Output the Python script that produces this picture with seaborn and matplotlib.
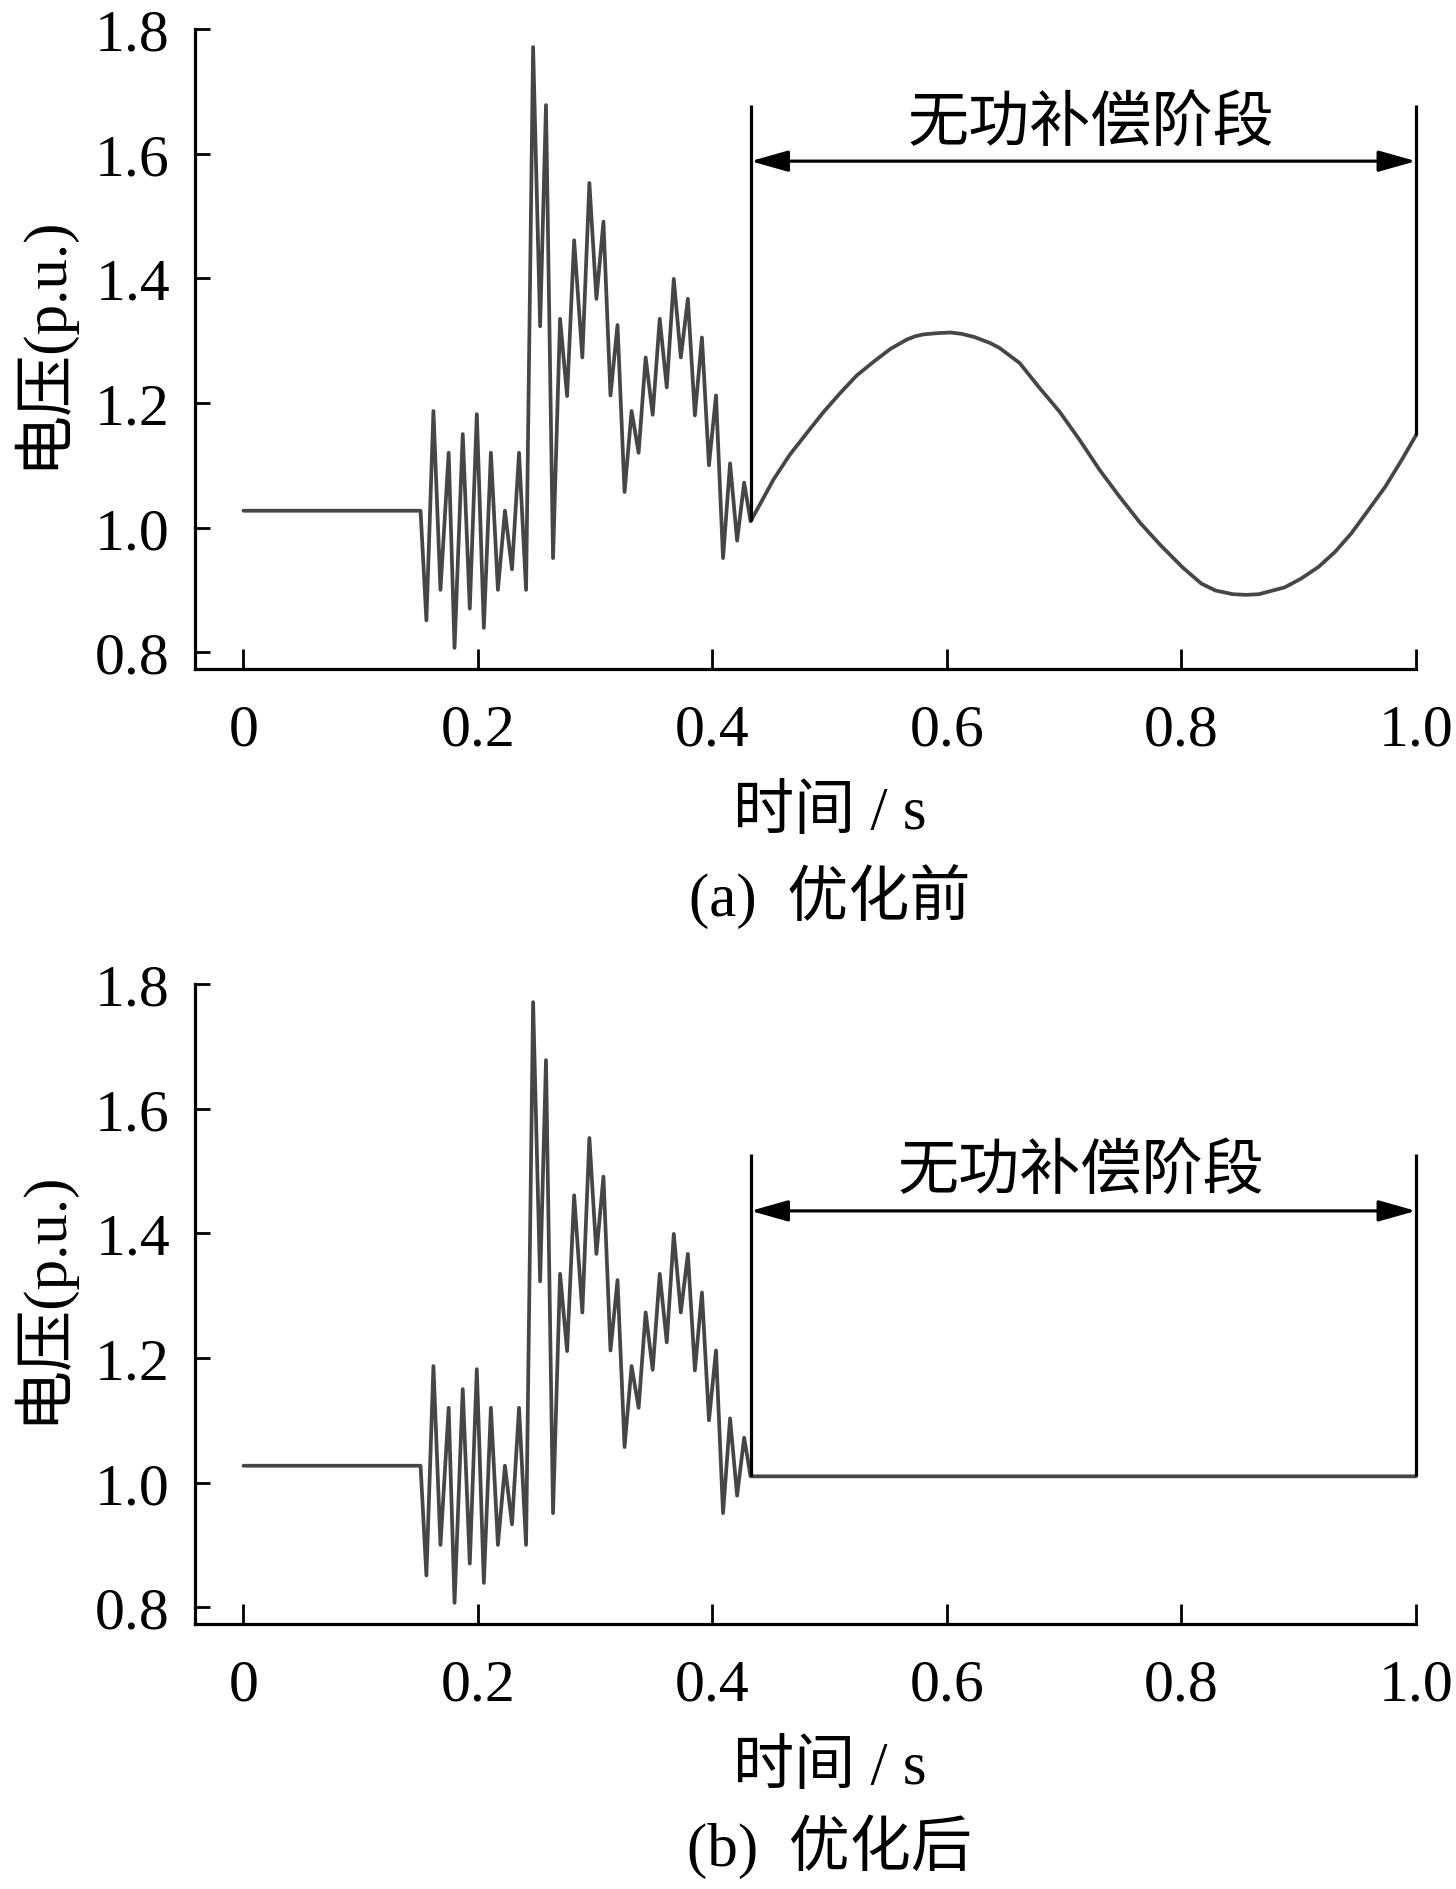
import matplotlib
matplotlib.use('Agg')
import matplotlib.pyplot as plt
import matplotlib.transforms as mtransforms
import pandas as pd
import seaborn as sns

# ---- data ----
# pre-fault steady level
t_pre = [0.0]
v_pre = [1.027]

# fault transient (same in both panels)
t_osc = [0.151, 0.156, 0.162, 0.168, 0.175, 0.180, 0.187, 0.193, 0.199, 0.205,
         0.211, 0.217, 0.223, 0.229, 0.235, 0.241, 0.247, 0.253, 0.258, 0.264,
         0.270, 0.276, 0.282, 0.289, 0.295, 0.301, 0.307, 0.313, 0.319, 0.325,
         0.331, 0.337, 0.343, 0.349, 0.355, 0.361, 0.367, 0.373, 0.379, 0.385,
         0.391, 0.397, 0.403, 0.409, 0.415, 0.421, 0.427, 0.4325]
v_osc = [1.027, 0.851, 1.187, 0.900, 1.120, 0.807, 1.150, 0.870, 1.182, 0.839,
         1.120, 0.900, 1.027, 0.933, 1.120, 0.900, 1.771, 1.323, 1.678, 0.951,
         1.335, 1.211, 1.461, 1.273, 1.553, 1.367, 1.491, 1.212, 1.325, 1.057,
         1.187, 1.120, 1.273, 1.181, 1.335, 1.225, 1.399, 1.273, 1.367, 1.180,
         1.305, 1.100, 1.212, 0.951, 1.103, 0.979, 1.072, 1.010]

# (a) before optimisation: swing during compensation stage
t_swing = [0.441, 0.452, 0.466, 0.481, 0.495, 0.509, 0.523, 0.538, 0.552, 0.566,
           0.573, 0.580, 0.592, 0.603, 0.612, 0.623, 0.637, 0.645, 0.662, 0.679,
           0.696, 0.713, 0.730, 0.747, 0.765, 0.782, 0.801, 0.817, 0.829, 0.844,
           0.855, 0.866, 0.888, 0.902, 0.917, 0.931, 0.945, 0.959, 0.974, 0.988,
           1.000]
v_swing = [1.039, 1.077, 1.117, 1.153, 1.186, 1.216, 1.244, 1.267, 1.287, 1.302,
           1.307, 1.310, 1.312, 1.313, 1.311, 1.306, 1.296, 1.288, 1.264, 1.224,
           1.186, 1.141, 1.093, 1.050, 1.007, 0.972, 0.936, 0.910, 0.899, 0.893,
           0.892, 0.893, 0.904, 0.918, 0.937, 0.961, 0.991, 1.027, 1.066, 1.109,
           1.148]

# (b) after optimisation: flat during compensation stage
t_hold = [1.000]
v_hold = [1.010]

stage_start, stage_end = 0.4325, 1.0
stage_label = '无功补偿阶段'
bracket_top = [1.678, 1.527]
arrow_y = [1.588, 1.436]
label_xy = [(0.723, 1.646), (0.7145, 1.497)]
captions = ['(a)  优化前', '(b)  优化后']
xlabel_y = [-0.2245, -0.2245]
caption_y = [-0.355, -0.347]

xticks = [0, 0.2, 0.4, 0.6, 0.8, 1.0]
xtick_labels = ['0', '0.2', '0.4', '0.6', '0.8', '1.0']
yticks = [0.8, 1.0, 1.2, 1.4, 1.6, 1.8]
ytick_labels = ['0.8', '1.0', '1.2', '1.4', '1.6', '1.8']

df_a = pd.DataFrame({'t': t_pre + t_osc + t_swing, 'v': v_pre + v_osc + v_swing})
df_b = pd.DataFrame({'t': t_pre + t_osc + t_hold, 'v': v_pre + v_osc + v_hold})

# ---- style ----
sns.set_style('ticks')
plt.rcParams['font.family'] = ['Liberation Serif', 'Noto Sans CJK SC']
plt.rcParams['axes.unicode_minus'] = False

LINE = '#464646'
FS = 44
TFS = 43

fig = plt.figure(figsize=(14.56, 18.9), dpi=100)
ax_a = fig.add_axes([0.1339, 0.6455, 0.8386, 0.3386])
ax_b = fig.add_axes([0.1339, 0.1402, 0.8386, 0.3386])

for i, (ax, df) in enumerate([(ax_a, df_a), (ax_b, df_b)]):
    sns.lineplot(data=df, x='t', y='v', ax=ax, color=LINE, lw=2.7,
                 estimator=None, sort=False, legend=False)
    ax.lines[0].set_clip_on(False)
    ax.lines[0].set_solid_joinstyle('round')

    ax.set_xlim(-0.0414, 1.0)
    ax.set_ylim(0.773, 1.8)
    ax.set_xticks(xticks)
    ax.set_xticklabels(xtick_labels)
    ax.set_yticks(yticks)
    ax.set_yticklabels(ytick_labels)

    for s in ['top', 'right']:
        ax.spines[s].set_visible(False)
    for s in ['left', 'bottom']:
        ax.spines[s].set_linewidth(2.3)
        ax.spines[s].set_color('black')
    ax.tick_params(axis='x', direction='in', length=14.5, width=2.0,
                   pad=25, labelsize=TFS, colors='black')
    ax.tick_params(axis='y', direction='in', length=11, width=2.0,
                   pad=18, labelsize=TFS, colors='black')

    # compensation stage bracket
    v_start = df.loc[df['t'] == stage_start, 'v'].iloc[-1]
    v_end = df['v'].iloc[-1]
    ax.vlines(stage_start, v_start, bracket_top[i], color='black', lw=2.3, clip_on=False)
    ax.vlines(stage_end, v_end, bracket_top[i], color='black', lw=2.3, clip_on=False)
    ax.annotate('', xy=(stage_end, arrow_y[i]), xytext=(stage_start, arrow_y[i]),
                arrowprops=dict(arrowstyle='<|-|>,head_length=23,head_width=6.5',
                                mutation_scale=1, color='black', lw=2.3,
                                shrinkA=0, shrinkB=0),
                annotation_clip=False)
    ax.text(label_xy[i][0], label_xy[i][1], stage_label, fontsize=FS,
            ha='center', va='center', color='black')

    ax.set_ylabel('电压(p.u.)', fontsize=FS, color='black')
    ax.yaxis.label.set_verticalalignment('center')
    ax.yaxis.label.set_horizontalalignment('center')
    ax.yaxis.set_label_coords(-0.127, 0.513)

    trans = mtransforms.blended_transform_factory(ax.transData, ax.transAxes)
    ax.set_xlabel('时间 / s', fontsize=FS, color='black')
    ax.xaxis.label.set_verticalalignment('center')
    ax.xaxis.set_label_coords(0.5, xlabel_y[i], transform=trans)

    ax.text(0.5, caption_y[i], captions[i], fontsize=FS, ha='center', va='center',
            color='black', transform=trans)

fig.savefig('out.png', dpi=100)
